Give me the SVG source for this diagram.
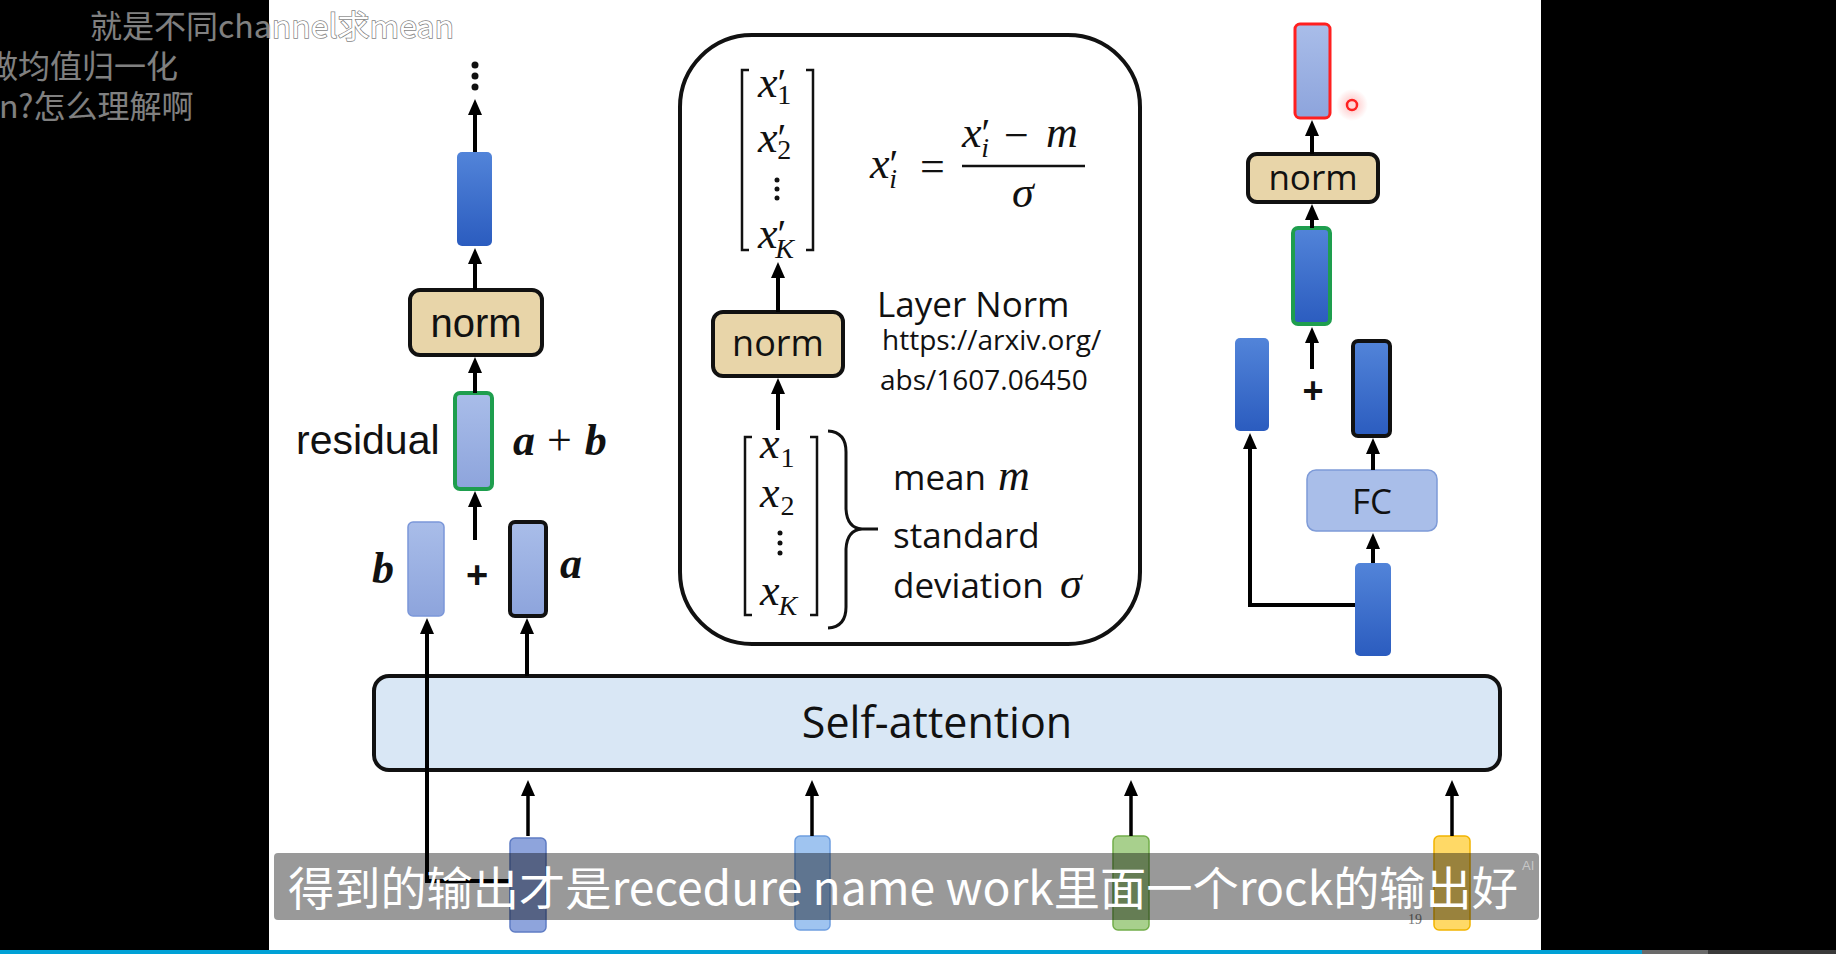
<svg xmlns="http://www.w3.org/2000/svg" width="1836" height="954" viewBox="0 0 1836 954">
<defs>
<style>
.dark{fill:url(#gDark)}
.light{fill:url(#gLight)}
.normbox{fill:#e8d5a9;stroke:#111;stroke-width:4}
.conn{stroke:#000;stroke-width:4;fill:none;marker-end:url(#ah)}
.thin{stroke-width:3.5}
.mi{font-family:"Liberation Serif","DejaVu Serif",serif;font-style:italic;font-size:44px;fill:#111}
.mu{font-family:"Liberation Serif","DejaVu Serif",serif;font-size:44px;fill:#111}
.pr{font-style:normal;font-size:40px}
.sub{font-style:normal;font-size:28px}
.subi{font-style:italic;font-size:28px}
.os{font-family:"Open Sans","Liberation Sans",sans-serif;fill:#111}
.ls{font-family:"Liberation Sans",Arial,sans-serif;fill:#111}
.bi{font-family:"Liberation Serif","DejaVu Serif",serif;font-style:italic;font-weight:bold;font-size:44px;fill:#111}
.brk{fill:none;stroke:#111;stroke-width:2.5}
.dm{font-family:"Noto Sans CJK SC","Noto Sans",sans-serif;font-size:32px;fill:#fff;stroke:#000;stroke-width:1.5;paint-order:stroke;opacity:0.5}
</style>
<linearGradient id="gDark" x1="0" y1="0" x2="0" y2="1">
<stop offset="0" stop-color="#5284d9"/><stop offset="1" stop-color="#2b5cbf"/>
</linearGradient>
<linearGradient id="gLight" x1="0" y1="0" x2="0" y2="1">
<stop offset="0" stop-color="#a9bde9"/><stop offset="1" stop-color="#8da4dc"/>
</linearGradient>
<radialGradient id="gHalo">
<stop offset="0" stop-color="#ff4040" stop-opacity="0.35"/><stop offset="1" stop-color="#ff4040" stop-opacity="0"/>
</radialGradient>
<marker id="ah" markerUnits="userSpaceOnUse" markerWidth="16" markerHeight="16" viewBox="0 0 16 16" refX="4" refY="8" orient="auto">
<path d="M0,1 L16,8 L0,15 z" fill="#000"/>
</marker>
</defs>

<rect x="0" y="0" width="1836" height="954" fill="#000"/>
<rect x="269" y="0" width="1272" height="950" fill="#fff"/>

<!-- Left column -->
<g id="node-dots">
<circle cx="475" cy="65" r="3.5" fill="#111"/>
<circle cx="475" cy="76" r="3.5" fill="#111"/>
<circle cx="475" cy="87" r="3.5" fill="#111"/>
</g>
<g id="node-left-out"><rect x="457" y="152" width="35" height="94" rx="5" class="dark"/></g>
<g id="node-left-norm">
<rect x="410" y="290" width="132" height="65" rx="10" class="normbox"/>
<text x="476" y="337" text-anchor="middle" class="ls" font-size="40">norm</text>
</g>
<g id="node-residual">
<rect x="455" y="393" width="37" height="96" rx="5" class="light" stroke="#1e9e4e" stroke-width="4"/>
<text x="296" y="454" class="ls" font-size="41">residual</text>
<text x="513" y="455" class="bi">a<tspan class="mu" font-weight="normal" font-style="normal" font-size="48" dx="12">+</tspan><tspan dx="13">b</tspan></text>
</g>
<g id="node-b">
<rect x="408" y="522" width="36" height="94" rx="5" class="light" stroke="#7b97d9" stroke-width="1.5"/>
<text x="372" y="583" class="bi">b</text>
</g>
<text x="477" y="588" text-anchor="middle" class="ls" font-size="38" font-weight="bold">+</text>
<g id="node-a">
<rect x="510" y="522" width="36" height="94" rx="5" class="light" stroke="#111" stroke-width="4"/>
<text x="560" y="578" class="bi">a</text>
</g>

<!-- Self-attention -->
<g id="node-selfattn">
<rect x="374" y="676" width="1126" height="94" rx="15" fill="#d9e7f5" stroke="#111" stroke-width="4"/>
<text x="937" y="738" text-anchor="middle" class="os" font-size="43">Self-attention</text>
</g>

<!-- Inputs -->
<g id="node-in1"><rect x="510" y="838" width="36" height="94" rx="5" fill="#8ea4dc" stroke="#5f7cc4" stroke-width="1.5"/></g>
<g id="node-in2"><rect x="795" y="836" width="35" height="94" rx="5" fill="#9fc4f0" stroke="#6f9fe0" stroke-width="1.5"/></g>
<g id="node-in3"><rect x="1113" y="836" width="36" height="94" rx="5" fill="#a8d08d" stroke="#72ad4a" stroke-width="1.5"/></g>
<g id="node-in4"><rect x="1434" y="836" width="36" height="94" rx="5" fill="#ffd966" stroke="#f2b400" stroke-width="1.5"/></g>
<text x="1408" y="924" font-family="Liberation Serif,serif" font-size="14" fill="#777">19</text>

<!-- Center Layer Norm box -->
<g id="node-layernorm">
<rect x="680" y="35" width="460" height="609" rx="72" fill="none" stroke="#111" stroke-width="4"/>
<path class="brk" d="M749,70 H742 V250 H749 M806,70 H813 V250 H806"/>
<text x="758" y="97" class="mi">x<tspan class="pr" dy="-1">′</tspan><tspan class="sub" dx="-9" dy="8">1</tspan></text>
<text x="758" y="152" class="mi">x<tspan class="pr" dy="-1">′</tspan><tspan class="sub" dx="-9" dy="8">2</tspan></text>
<circle cx="777" cy="180" r="2.5" fill="#111"/><circle cx="777" cy="189" r="2.5" fill="#111"/><circle cx="777" cy="198" r="2.5" fill="#111"/>
<text x="758" y="248" class="mi">x<tspan class="pr" dy="-1">′</tspan><tspan class="subi" dx="-11" dy="11">K</tspan></text>

<text x="870" y="178" class="mi">x<tspan class="pr" dy="-1">′</tspan><tspan class="subi" dx="-9" dy="11">i</tspan></text>
<text x="920" y="181" class="mu" font-size="48">=</text>
<line x1="962" y1="166" x2="1085" y2="166" stroke="#111" stroke-width="2.5"/>
<text x="962" y="147" class="mi">x<tspan class="pr" dy="-1">′</tspan><tspan class="subi" dx="-9" dy="11">i</tspan><tspan class="mu" font-style="normal" x="1004" y="150" font-size="48">−</tspan><tspan x="1046" y="147">m</tspan></text>
<text x="1012" y="207" class="mi">σ</text>

<text x="877" y="317" class="os" font-size="35">Layer Norm</text>
<text x="882" y="350" class="os" font-size="28">https://arxiv.org/</text>
<text x="880" y="390" class="os" font-size="28">abs/1607.06450</text>

<path class="brk" d="M752,437 H745 V615 H752 M810,437 H817 V615 H810"/>
<text x="760" y="458" class="mi">x<tspan class="sub" dx="1" dy="9">1</tspan></text>
<text x="760" y="507" class="mi">x<tspan class="sub" dx="1" dy="8">2</tspan></text>
<circle cx="780" cy="533" r="2.5" fill="#111"/><circle cx="780" cy="543" r="2.5" fill="#111"/><circle cx="780" cy="553" r="2.5" fill="#111"/>
<text x="760" y="605" class="mi">x<tspan class="subi" dx="-1" dy="10">K</tspan></text>
<path fill="none" stroke="#111" stroke-width="3" d="M828,431 Q846,432 846,452 L846,509 Q847,528 862,529 L878,529 M862,529 Q847,530 846,549 L846,607 Q846,627 828,628"/>

<text x="893" y="490" class="os" font-size="35">mean<tspan class="mi" x="998">m</tspan></text>
<text x="893" y="548" class="os" font-size="35">standard</text>
<text x="893" y="598" class="os" font-size="35">deviation<tspan class="mi" x="1060">σ</tspan></text>
</g>
<g id="node-center-norm">
<rect x="713" y="312" width="130" height="64" rx="10" class="normbox"/>
<text x="778" y="356" text-anchor="middle" class="os" font-size="36">norm</text>
</g>

<!-- Right column -->
<g id="node-right-out"><rect x="1295" y="24" width="35" height="94" rx="5" class="light" stroke="#ff1f1f" stroke-width="3"/></g>
<g id="node-right-norm">
<rect x="1248" y="154" width="130" height="48" rx="9" class="normbox"/>
<text x="1313" y="190" text-anchor="middle" class="os" font-size="35">norm</text>
</g>
<g id="node-right-sum"><rect x="1293" y="228" width="37" height="96" rx="5" class="dark" stroke="#1e9e4e" stroke-width="4"/></g>
<text x="1313" y="403" text-anchor="middle" class="ls" font-size="36" font-weight="bold">+</text>
<g id="node-right-skip"><rect x="1235" y="338" width="34" height="93" rx="5" class="dark"/></g>
<g id="node-right-fcout"><rect x="1353" y="341" width="37" height="95" rx="5" class="dark" stroke="#111" stroke-width="4"/></g>
<g id="node-fc">
<rect x="1307" y="470" width="130" height="61" rx="9" fill="#a9bee9" stroke="#7e9bd8" stroke-width="1.5"/>
<text x="1372" y="514" text-anchor="middle" class="os" font-size="35">FC</text>
</g>
<g id="node-right-in"><rect x="1355" y="563" width="36" height="93" rx="5" class="dark"/></g>

<!-- Connectors -->
<g id="connectors">
<path class="conn" d="M475,152 V111"/>
<path class="conn" d="M475,290 V260"/>
<path class="conn" d="M475,393 V369"/>
<path class="conn" d="M475,540 V503"/>
<path class="conn" d="M510,881 H427 V630"/>
<path class="conn" d="M527,676 V630"/>
<path class="conn" d="M778,312 V274"/>
<path class="conn" d="M778,430 V390"/>
<path class="conn" d="M1312,154 V132"/>
<path class="conn" d="M1312,228 V216"/>
<path class="conn" d="M1312,369 V339"/>
<path class="conn" d="M1355,605 H1250 V445"/>
<path class="conn" d="M1373,470 V450"/>
<path class="conn" d="M1373,563 V545"/>
<path class="conn thin" d="M528,836 V792"/>
<path class="conn thin" d="M812,836 V792"/>
<path class="conn thin" d="M1131,836 V792"/>
<path class="conn thin" d="M1452,836 V792"/>
</g>

<!-- cursor -->
<circle cx="1352" cy="105" r="16" fill="url(#gHalo)"/>
<circle cx="1352" cy="105" r="5" fill="#ffd6d6" stroke="#ff2020" stroke-width="2.5"/>

<!-- subtitle overlay -->
<rect x="274" y="853" width="1265" height="67" rx="4" fill="#000" fill-opacity="0.4"/>
<text x="288" y="905" font-family="Noto Sans CJK SC,Noto Sans,sans-serif" font-size="46" fill="#fff" textLength="1230" lengthAdjust="spacingAndGlyphs">得到的输出才是recedure name work里面一个rock的输出好</text>
<text x="1522" y="870" font-family="Liberation Sans,sans-serif" font-size="13" fill="#ddd" fill-opacity="0.7">AI</text>

<!-- danmaku -->
<text x="90" y="38" class="dm">就是不同channel求mean</text>
<text x="-14" y="78" class="dm">做均值归一化</text>
<text x="-1" y="118" class="dm">n?怎么理解啊</text>

<!-- progress bar -->
<rect x="0" y="950" width="1642" height="4" fill="#00a1d6"/>
<rect x="1642" y="950" width="66" height="4" fill="#6a6a6a"/>
<rect x="1708" y="950" width="128" height="4" fill="#3a3a3a"/>
</svg>
